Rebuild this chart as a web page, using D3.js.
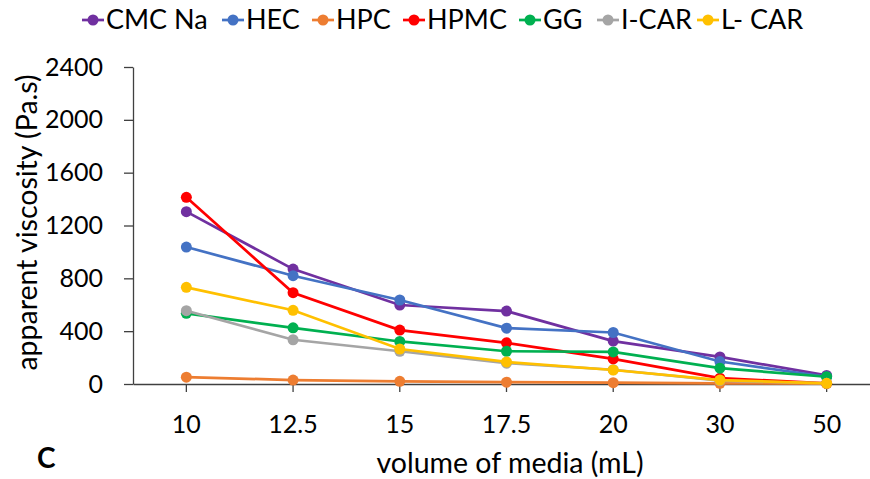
<!DOCTYPE html>
<html>
<head>
<meta charset="utf-8">
<script src="https://cdn.jsdelivr.net/npm/d3@7"></script>
<style>
  body { margin: 0; background: #fff; }
  svg { display: block; font-family: Lato, "Liberation Sans", sans-serif; }
  .axis path, .axis line { stroke: #404040; stroke-width: 1.3; }
  .axis text { font-size: 25px; fill: #000; font-family: Lato, sans-serif; }
</style>
</head>
<body>
<div id="chart"></div>
<script>
// volume of media (mL)
var categories = ['10', '12.5', '15', '17.5', '20', '30', '50']
var yTicks = [0, 400, 800, 1200, 1600, 2000, 2400]

// apparent viscosity (Pa.s)
var cmcNa = [1305, 870, 598, 552, 325, 205, 65]
var hec   = [1037, 820, 636, 423, 390, 170, 55]
var hpc   = [52, 30, 20, 14, 10, 5, 2]
var hpmc  = [1413, 691, 408, 312, 190, 44, 5]
var gg    = [535, 425, 322, 248, 243, 120, 55]
var iCar  = [555, 335, 248, 158, 108, 25, 5]
var lCar  = [732, 558, 265, 167, 106, 30, 5]

var series = [
    { name: 'CMC Na', color: '#7030A0', values: cmcNa, lx: 93 },
    { name: 'HEC', color: '#4472C4', values: hec, lx: 233 },
    { name: 'HPC', color: '#ED7D31', values: hpc, lx: 323 },
    { name: 'HPMC', color: '#FF0000', values: hpmc, lx: 414 },
    { name: 'GG', color: '#00B050', values: gg, lx: 530 },
    { name: 'I-CAR', color: '#A5A5A5', values: iCar, lx: 608 },
    { name: 'L- CAR', color: '#FFC000', values: lCar, lx: 708 }
]

var w = 870, h = 479
var plotLeft = 133, plotRight = 880, plotTop = 67, plotBottom = 384

var svg = d3.select('#chart')
    .append('svg')
    .attr('width', w)
    .attr('height', h)

var x = d3.scaleBand().domain(categories).range([plotLeft, plotRight])
var y = d3.scaleLinear().domain([0, 2400]).range([plotBottom, plotTop])

// y axis
svg.append('g')
    .attr('class', 'axis')
    .attr('transform', 'translate(' + plotLeft + ',0)')
    .call(d3.axisLeft(y).tickValues(yTicks).tickFormat(d3.format('d'))
        .tickSize(9).tickPadding(21).tickSizeOuter(0))

// x axis, ticks at the category centres
var xAxis = svg.append('g')
    .attr('class', 'axis')
    .attr('transform', 'translate(0,' + plotBottom + ')')
    .call(d3.axisBottom(x).tickSize(8).tickSizeOuter(0))
xAxis.selectAll('text').attr('y', 49).attr('dy', null)

var line = d3.line()
    .x(function (d, i) { return x(categories[i]) + x.bandwidth() / 2 })
    .y(function (d) { return y(d) })

series.forEach(function (s) {
    var g = svg.append('g')
    g.append('path')
        .attr('d', line(s.values))
        .attr('fill', 'none')
        .attr('stroke', s.color)
        .attr('stroke-width', 2.7)
    g.selectAll('circle')
        .data(s.values)
        .enter()
        .append('circle')
        .attr('cx', function (d, i) { return x(categories[i]) + x.bandwidth() / 2 })
        .attr('cy', function (d) { return y(d) })
        .attr('r', 5.5)
        .attr('fill', s.color)
})

// legend
var legend = svg.append('g')
series.forEach(function (s) {
    legend.append('line')
        .attr('x1', s.lx - 11).attr('x2', s.lx + 11)
        .attr('y1', 20).attr('y2', 20)
        .attr('stroke', s.color)
        .attr('stroke-width', 2.7)
    legend.append('circle')
        .attr('cx', s.lx).attr('cy', 20).attr('r', 5.5)
        .attr('fill', s.color)
    legend.append('text')
        .attr('x', s.lx + 13)
        .attr('y', 29)
        .attr('font-size', 27)
        .text(s.name)
})

// axis titles
svg.append('text')
    .attr('transform', 'translate(37,' + ((plotTop + plotBottom) / 2 - 3) + ') rotate(-90)')
    .attr('text-anchor', 'middle')
    .attr('font-size', 28.5)
    .text('apparent viscosity (Pa.s)')

svg.append('text')
    .attr('x', 510)
    .attr('y', 473)
    .attr('text-anchor', 'middle')
    .attr('font-size', 28.5)
    .text('volume of media (mL)')

svg.append('text')
    .attr('x', 37)
    .attr('y', 468)
    .attr('font-size', 28)
    .attr('font-weight', 'bold')
    .text('C')
</script>
</body>
</html>
